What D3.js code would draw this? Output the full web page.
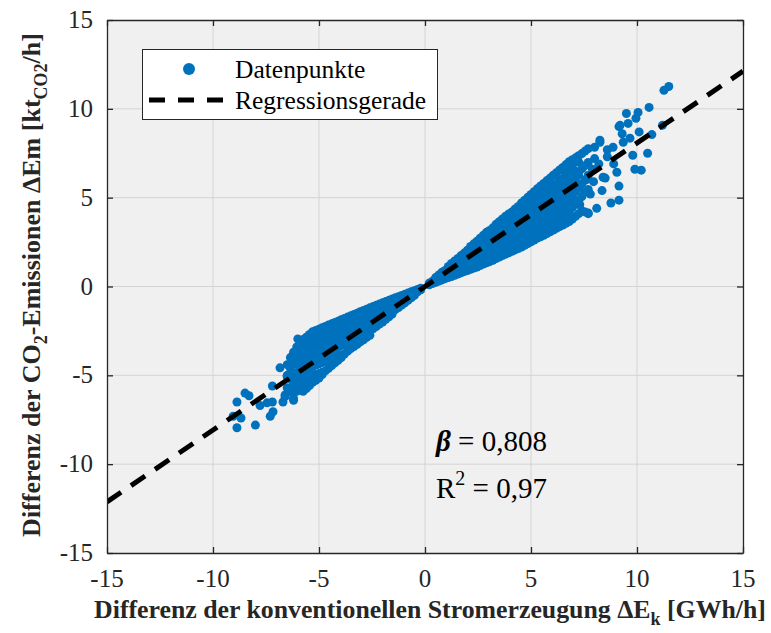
<!DOCTYPE html>
<html>
<head>
<meta charset="utf-8">
<script src="https://cdn.jsdelivr.net/npm/d3@7"></script>
<style>
  body { margin: 0; background: #ffffff; }
  svg, svg text { font-family: "Liberation Serif", "Times New Roman", serif; }
</style>
</head>
<body>
<div id="chart"></div>
<script>
// axis ticks
const xTicks = [-15, -10, -5, 0, 5, 10, 15];
const yTicks = [-15, -10, -5, 0, 5, 10, 15];

// regression
const beta = 0.808;
const lineX = [-15, 15];

// data points [dE_k, dEm]
const posCore = [
  [0.2,0.1],[0.2,0.19],
  [0.5,0.24],[0.5,0.38],[0.5,0.5],
  [0.8,0.37],[0.8,0.58],[0.8,0.8],
  [1.1,0.5],[1.1,0.74],[1.1,0.98],[1.1,1.13],
  [1.4,0.63],[1.4,0.9],[1.4,1.18],[1.4,1.44],
  [1.7,0.77],[1.7,1.07],[1.7,1.38],[1.7,1.74],
  [2.0,0.9],[2.0,1.25],[2.0,1.6],[2.0,2.04],
  [2.3,1.04],[2.3,1.42],[2.3,1.82],[2.3,2.2],[2.3,2.4],
  [2.6,1.18],[2.6,1.58],[2.6,2.0],[2.6,2.42],[2.6,2.72],
  [2.9,1.33],[2.9,1.74],[2.9,2.18],[2.9,2.62],[2.9,3.05],
  [3.2,1.48],[3.2,1.92],[3.2,2.38],[3.2,2.84],[3.2,3.3],
  [3.5,1.66],[3.5,2.08],[3.5,2.52],[3.5,2.98],[3.5,3.4],[3.5,3.65],
  [3.8,1.82],[3.8,2.26],[3.8,2.72],[3.8,3.18],[3.8,3.6],[3.8,3.95],
  [4.1,1.98],[4.1,2.42],[4.1,2.88],[4.1,3.36],[4.1,3.82],[4.1,4.2],
  [4.4,2.14],[4.4,2.6],[4.4,3.08],[4.4,3.56],[4.4,4.04],[4.4,4.5],
  [4.7,2.32],[4.7,2.78],[4.7,3.26],[4.7,3.76],[4.7,4.24],[4.7,4.64],[4.7,4.86],
  [5.0,2.52],[5.0,2.98],[5.0,3.46],[5.0,3.96],[5.0,4.44],[5.0,4.9],[5.0,5.18],
  [5.3,2.72],[5.3,3.18],[5.3,3.66],[5.3,4.14],[5.3,4.64],[5.3,5.12],[5.3,5.5],
  [5.6,2.88],[5.6,3.36],[5.6,3.86],[5.6,4.36],[5.6,4.86],[5.6,5.34],[5.6,5.8],
  [5.9,3.08],[5.9,3.56],[5.9,4.06],[5.9,4.56],[5.9,5.06],[5.9,5.54],[5.9,6.1],
  [6.2,3.28],[6.2,3.78],[6.2,4.28],[6.2,4.78],[6.2,5.28],[6.2,5.8],[6.2,6.4],
  [6.5,3.46],[6.5,3.98],[6.5,4.52],[6.5,5.06],[6.5,5.58],[6.5,6.08],[6.5,6.7],
  [6.8,3.66],[6.8,4.24],[6.8,4.84],[6.8,5.44],[6.8,5.98],[6.8,6.56],[6.8,7.02],
  [7.1,3.95],[7.1,4.62],[7.1,5.34],[7.1,5.96],[7.1,6.48],[7.1,7.24],
  [7.4,4.26],[7.4,5.06],[7.4,5.78],[7.4,6.62],[7.4,7.48],
  [7.7,4.1],[7.7,5.46],[7.7,6.26],[7.7,6.98],[7.7,7.76]
];
const posFill = [
  [0.35,0.17],[0.35,0.3],
  [0.65,0.3],[0.65,0.48],[0.65,0.65],
  [0.95,0.44],[0.95,0.66],[0.95,0.9],
  [1.25,0.56],[1.25,0.82],[1.25,1.08],[1.25,1.3],
  [1.55,0.7],[1.55,0.98],[1.55,1.28],[1.55,1.58],
  [1.85,0.84],[1.85,1.16],[1.85,1.5],[1.85,1.88],
  [2.15,0.97],[2.15,1.34],[2.15,1.7],[2.15,2.1],[2.15,2.25],
  [2.45,1.1],[2.45,1.5],[2.45,1.9],[2.45,2.3],[2.45,2.55],
  [2.75,1.26],[2.75,1.66],[2.75,2.08],[2.75,2.52],[2.75,2.88],
  [3.05,1.4],[3.05,1.84],[3.05,2.28],[3.05,2.74],[3.05,3.15],
  [3.35,1.57],[3.35,2.0],[3.35,2.46],[3.35,2.92],[3.35,3.36],[3.35,3.5],
  [3.65,1.74],[3.65,2.18],[3.65,2.62],[3.65,3.08],[3.65,3.52],[3.65,3.8],
  [3.95,1.9],[3.95,2.34],[3.95,2.8],[3.95,3.28],[3.95,3.74],[3.95,4.08],
  [4.25,2.06],[4.25,2.5],[4.25,2.98],[4.25,3.46],[4.25,3.94],[4.25,4.36],
  [4.55,2.22],[4.55,2.7],[4.55,3.18],[4.55,3.66],[4.55,4.14],[4.55,4.56],[4.55,4.7],
  [4.85,2.42],[4.85,2.88],[4.85,3.36],[4.85,3.86],[4.85,4.34],[4.85,4.78],[4.85,5.02],
  [5.15,2.62],[5.15,3.08],[5.15,3.56],[5.15,4.06],[5.15,4.54],[5.15,5.02],[5.15,5.34],
  [5.45,2.8],[5.45,3.28],[5.45,3.76],[5.45,4.26],[5.45,4.76],[5.45,5.24],[5.45,5.66],
  [5.75,2.98],[5.75,3.46],[5.75,3.96],[5.75,4.46],[5.75,4.96],[5.75,5.44],[5.75,5.96],
  [6.05,3.18],[6.05,3.66],[6.05,4.16],[6.05,4.66],[6.05,5.16],[6.05,5.68],[6.05,6.26],
  [6.35,3.38],[6.35,3.88],[6.35,4.4],[6.35,4.92],[6.35,5.44],[6.35,5.96],[6.35,6.56],
  [6.65,3.56],[6.65,4.1],[6.65,4.68],[6.65,5.24],[6.65,5.78],[6.65,6.32],[6.65,6.86],
  [6.95,3.8],[6.95,4.44],[6.95,5.08],[6.95,5.7],[6.95,6.24],[6.95,6.8],[6.95,7.14],
  [7.25,4.1],[7.25,4.84],[7.25,5.56],[7.25,6.28],[7.25,7.0],[7.25,7.36],
  [7.55,4.2],[7.55,5.3],[7.55,6.0],[7.55,6.8],[7.55,7.62]
];
const posOuter = [
  [11.5,11.26],[11.27,11.04],[10.57,10.08],[10.05,9.8],[9.5,9.74],[9.95,9.47],
  [9.58,9.18],[9.15,9.0],[11.2,9.07],[9.3,8.6],[10.1,8.7],[10.7,8.55],
  [9.67,8.35],[9.35,8.12],[8.87,7.84],[8.25,8.12],[8.0,7.84],[9.8,7.39],
  [10.5,7.5],[9.9,6.6],[10.2,6.55],[9.05,6.43],[9.15,5.65],[8.4,6.15],
  [9.15,4.86],[8.77,4.7],[8.1,4.4],[7.7,4.13],[8.35,5.4],[8.5,6.1],
  [8.9,6.9],[8.6,7.3],[8.2,6.9],[7.9,6.6],[8.0,7.2],[7.6,6.0],[7.8,5.2],
  [7.3,4.6],[9.2,9.07],[8.25,8.23],[7.95,5.9],[8.6,7.7]
];
const negCore = [
  [-0.2,-0.1],[-0.2,-0.18],
  [-0.5,-0.24],[-0.5,-0.38],[-0.5,-0.5],
  [-0.8,-0.37],[-0.8,-0.58],[-0.8,-0.78],
  [-1.1,-0.5],[-1.1,-0.75],[-1.1,-1.05],
  [-1.4,-0.64],[-1.4,-0.92],[-1.4,-1.3],
  [-1.7,-0.78],[-1.7,-1.1],[-1.7,-1.45],[-1.7,-1.7],
  [-2.0,-0.92],[-2.0,-1.3],[-2.0,-1.65],[-2.0,-2.0],
  [-2.3,-1.06],[-2.3,-1.45],[-2.3,-1.85],[-2.3,-2.25],
  [-2.6,-1.2],[-2.6,-1.62],[-2.6,-2.05],[-2.6,-2.5],[-2.6,-2.75],
  [-2.9,-1.35],[-2.9,-1.8],[-2.9,-2.25],[-2.9,-2.7],[-2.9,-3.0],
  [-3.2,-1.5],[-3.2,-1.95],[-3.2,-2.45],[-3.2,-2.9],[-3.2,-3.25],
  [-3.5,-1.65],[-3.5,-2.1],[-3.5,-2.6],[-3.5,-3.1],[-3.5,-3.5],
  [-3.8,-1.8],[-3.8,-2.25],[-3.8,-2.75],[-3.8,-3.25],[-3.8,-3.8],
  [-4.1,-1.95],[-4.1,-2.4],[-4.1,-2.9],[-4.1,-3.4],[-4.1,-3.9],[-4.1,-4.15],
  [-4.4,-2.1],[-4.4,-2.55],[-4.4,-3.05],[-4.4,-3.55],[-4.4,-4.05],[-4.4,-4.45],
  [-4.7,-2.25],[-4.7,-2.7],[-4.7,-3.2],[-4.7,-3.7],[-4.7,-4.2],[-4.7,-4.75],
  [-5.0,-2.4],[-5.0,-2.85],[-5.0,-3.35],[-5.0,-3.85],[-5.0,-4.35],[-5.0,-4.9],[-5.0,-5.15],
  [-5.3,-2.55],[-5.3,-3.0],[-5.3,-3.5],[-5.3,-4.0],[-5.3,-4.5],[-5.3,-5.0],[-5.3,-5.4],
  [-5.6,-2.85],[-5.6,-3.3],[-5.6,-3.8],[-5.6,-4.3],[-5.6,-4.8],[-5.6,-5.3],[-5.6,-5.75],
  [-5.9,-3.1],[-5.9,-3.6],[-5.9,-4.1],[-5.9,-4.6],[-5.9,-5.1],[-5.9,-5.6],
  [-6.2,-3.7],[-6.2,-4.3],[-6.2,-4.9],[-6.2,-5.5],[-6.2,-6.3],
  [-6.5,-4.4],[-6.5,-5.0],[-6.5,-5.7]
];
const negFill = [
  [-0.35,-0.17],[-0.35,-0.3],
  [-0.65,-0.3],[-0.65,-0.48],[-0.65,-0.64],
  [-0.95,-0.44],[-0.95,-0.66],[-0.95,-0.92],
  [-1.25,-0.57],[-1.25,-0.84],[-1.25,-1.18],
  [-1.55,-0.71],[-1.55,-1.0],[-1.55,-1.35],[-1.55,-1.55],
  [-1.85,-0.85],[-1.85,-1.2],[-1.85,-1.55],[-1.85,-1.85],
  [-2.15,-0.99],[-2.15,-1.38],[-2.15,-1.75],[-2.15,-2.12],
  [-2.45,-1.13],[-2.45,-1.54],[-2.45,-1.95],[-2.45,-2.38],
  [-2.75,-1.28],[-2.75,-1.7],[-2.75,-2.15],[-2.75,-2.6],[-2.75,-2.86],
  [-3.05,-1.42],[-3.05,-1.88],[-3.05,-2.35],[-3.05,-2.8],[-3.05,-3.12],
  [-3.35,-1.57],[-3.35,-2.02],[-3.35,-2.52],[-3.35,-3.0],[-3.35,-3.38],
  [-3.65,-1.72],[-3.65,-2.18],[-3.65,-2.68],[-3.65,-3.18],[-3.65,-3.64],
  [-3.95,-1.87],[-3.95,-2.32],[-3.95,-2.82],[-3.95,-3.32],[-3.95,-3.84],[-3.95,-4.0],
  [-4.25,-2.02],[-4.25,-2.48],[-4.25,-2.98],[-4.25,-3.48],[-4.25,-3.98],[-4.25,-4.3],
  [-4.55,-2.17],[-4.55,-2.62],[-4.55,-3.12],[-4.55,-3.62],[-4.55,-4.12],[-4.55,-4.6],
  [-4.85,-2.32],[-4.85,-2.78],[-4.85,-3.28],[-4.85,-3.78],[-4.85,-4.28],[-4.85,-4.82],[-4.85,-4.95],
  [-5.15,-2.47],[-5.15,-2.92],[-5.15,-3.42],[-5.15,-3.92],[-5.15,-4.42],[-5.15,-4.95],[-5.15,-5.28],
  [-5.45,-2.7],[-5.45,-3.15],[-5.45,-3.65],[-5.45,-4.15],[-5.45,-4.65],[-5.45,-5.15],[-5.45,-5.58],
  [-5.75,-2.98],[-5.75,-3.45],[-5.75,-3.95],[-5.75,-4.45],[-5.75,-4.95],[-5.75,-5.45],[-5.75,-5.9],
  [-6.05,-3.4],[-6.05,-3.85],[-6.05,-4.35],[-6.05,-4.85],[-6.05,-5.35],[-6.05,-5.9],
  [-6.35,-4.0],[-6.35,-4.6],[-6.35,-5.2],[-6.35,-5.9]
];
const negOuter = [
  [-6.84,-4.58],[-8.49,-6.0],[-8.3,-6.15],[-8.87,-6.5],[-7.2,-5.6],[-7.2,-6.5],
  [-7.45,-6.55],[-7.78,-6.7],[-7.17,-7.05],[-7.3,-7.3],[-9.05,-7.3],[-8.68,-7.4],
  [-8.87,-7.95],[-8.0,-7.8],[-6.6,-6.1],[-6.7,-6.5],[-6.2,-6.4],[-6.0,-2.95],
  [-5.9,-3.12],[-6.27,-3.96],[-6.5,-5.08],[-6.6,-6.2]
];
const points = posCore.concat(posFill, posOuter, negCore, negFill, negOuter);

const W = 771, H = 633;
const x = d3.scaleLinear().domain([-15, 15]).range([107, 743]);
const y = d3.scaleLinear().domain([-15, 15]).range([553, 20]);

const blue = "#0072bd";
const axisCol = "#262626";
const serif = "'Liberation Serif', 'Times New Roman', serif";

const svg = d3.select("#chart").append("svg")
  .attr("width", W).attr("height", H)
  .attr("font-family", serif);

svg.append("defs").append("clipPath").attr("id", "plotClip")
  .append("rect")
  .attr("x", x(-15)).attr("y", y(15))
  .attr("width", x(15) - x(-15)).attr("height", y(-15) - y(15));

// background
svg.append("rect")
  .attr("x", x(-15)).attr("y", y(15))
  .attr("width", x(15) - x(-15)).attr("height", y(-15) - y(15))
  .attr("fill", "#f0f0f0");

// grid
const grid = svg.append("g").attr("stroke", "#d4d4d4").attr("stroke-width", 1);
grid.selectAll(".gx").data(xTicks.slice(1, -1)).join("line")
  .attr("x1", d => x(d)).attr("x2", d => x(d))
  .attr("y1", y(15)).attr("y2", y(-15));
grid.selectAll(".gy").data(yTicks.slice(1, -1)).join("line")
  .attr("y1", d => y(d)).attr("y2", d => y(d))
  .attr("x1", x(-15)).attr("x2", x(15));

// points
const plot = svg.append("g").attr("clip-path", "url(#plotClip)");
plot.selectAll("circle").data(points).join("circle")
  .attr("cx", d => x(d[0]))
  .attr("cy", d => y(d[1]))
  .attr("r", 4.5)
  .attr("fill", blue);

// regression line
plot.append("path")
  .datum(lineX)
  .attr("d", d3.line().x(d => x(d)).y(d => y(beta * d)))
  .attr("stroke", "#000")
  .attr("stroke-width", 5)
  .attr("stroke-dasharray", "17,12")
  .attr("fill", "none");

// axes (box with inward ticks)
const tickLen = 6;
svg.append("g").attr("transform", `translate(0,${y(-15)})`)
  .call(d3.axisBottom(x).tickValues(xTicks).tickSizeInner(-tickLen).tickSizeOuter(0).tickFormat(""));
svg.append("g").attr("transform", `translate(0,${y(15)})`)
  .call(d3.axisTop(x).tickValues(xTicks).tickSizeInner(-tickLen).tickSizeOuter(0).tickFormat(""));
svg.append("g").attr("transform", `translate(${x(-15)},0)`)
  .call(d3.axisLeft(y).tickValues(yTicks).tickSizeInner(-tickLen).tickSizeOuter(0).tickFormat(""));
svg.append("g").attr("transform", `translate(${x(15)},0)`)
  .call(d3.axisRight(y).tickValues(yTicks).tickSizeInner(-tickLen).tickSizeOuter(0).tickFormat(""));
svg.selectAll(".domain, .tick line").attr("stroke", axisCol).attr("stroke-width", 1.3);

// tick labels
svg.append("g").selectAll("text").data(xTicks).join("text")
  .attr("x", d => x(d)).attr("y", 587)
  .attr("text-anchor", "middle")
  .attr("font-size", 25).attr("fill", axisCol)
  .text(d => d);
svg.append("g").selectAll("text").data(yTicks).join("text")
  .attr("x", 93).attr("y", d => y(d) + 8)
  .attr("text-anchor", "end")
  .attr("font-size", 25).attr("fill", axisCol)
  .text(d => d);

// axis labels
const xl = svg.append("text")
  .attr("x", 430).attr("y", 618)
  .attr("text-anchor", "middle")
  .attr("font-size", 25.8).attr("font-weight", "bold").attr("fill", axisCol);
xl.append("tspan").text("Differenz der konventionellen Stromerzeugung \u0394E");
xl.append("tspan").attr("font-size", 18).attr("dy", 7).text("k");
xl.append("tspan").attr("dy", -7).text(" [GWh/h]");

const yl = svg.append("text")
  .attr("transform", "translate(40,285) rotate(-90)")
  .attr("text-anchor", "middle")
  .attr("font-size", 26).attr("font-weight", "bold").attr("fill", axisCol);
yl.append("tspan").text("Differenz der CO");
yl.append("tspan").attr("font-size", 18).attr("dy", 7).text("2");
yl.append("tspan").attr("dy", -7).text("-Emissionen \u0394Em [kt");
yl.append("tspan").attr("font-size", 18).attr("dy", 7).text("CO2");
yl.append("tspan").attr("dy", -7).text("/h]");

// annotation
const a1 = svg.append("text").attr("x", 436).attr("y", 451)
  .attr("font-size", 29).attr("fill", "#000");
a1.append("tspan").attr("font-weight", "bold").attr("font-style", "italic").text("\u03B2");
a1.append("tspan").text(" = 0,808");
const a2 = svg.append("text").attr("x", 436).attr("y", 498)
  .attr("font-size", 29).attr("fill", "#000");
a2.append("tspan").text("R");
a2.append("tspan").attr("font-size", 20).attr("dy", -13).text("2");
a2.append("tspan").attr("dy", 13).text(" = 0,97");

// legend
const lg = svg.append("g");
lg.append("rect")
  .attr("x", 142.5).attr("y", 49.5).attr("width", 295).attr("height", 70)
  .attr("fill", "#fff").attr("stroke", axisCol).attr("stroke-width", 1);
lg.append("circle").attr("cx", 189).attr("cy", 69).attr("r", 6).attr("fill", blue);
lg.append("line")
  .attr("x1", 149).attr("x2", 229).attr("y1", 100).attr("y2", 100)
  .attr("stroke", "#000").attr("stroke-width", 5).attr("stroke-dasharray", "16,13");
lg.append("text").attr("x", 235).attr("y", 78).attr("font-size", 25.5).attr("fill", "#000").text("Datenpunkte");
lg.append("text").attr("x", 235).attr("y", 109).attr("font-size", 25.5).attr("fill", "#000").text("Regressionsgerade");
</script>
</body>
</html>
